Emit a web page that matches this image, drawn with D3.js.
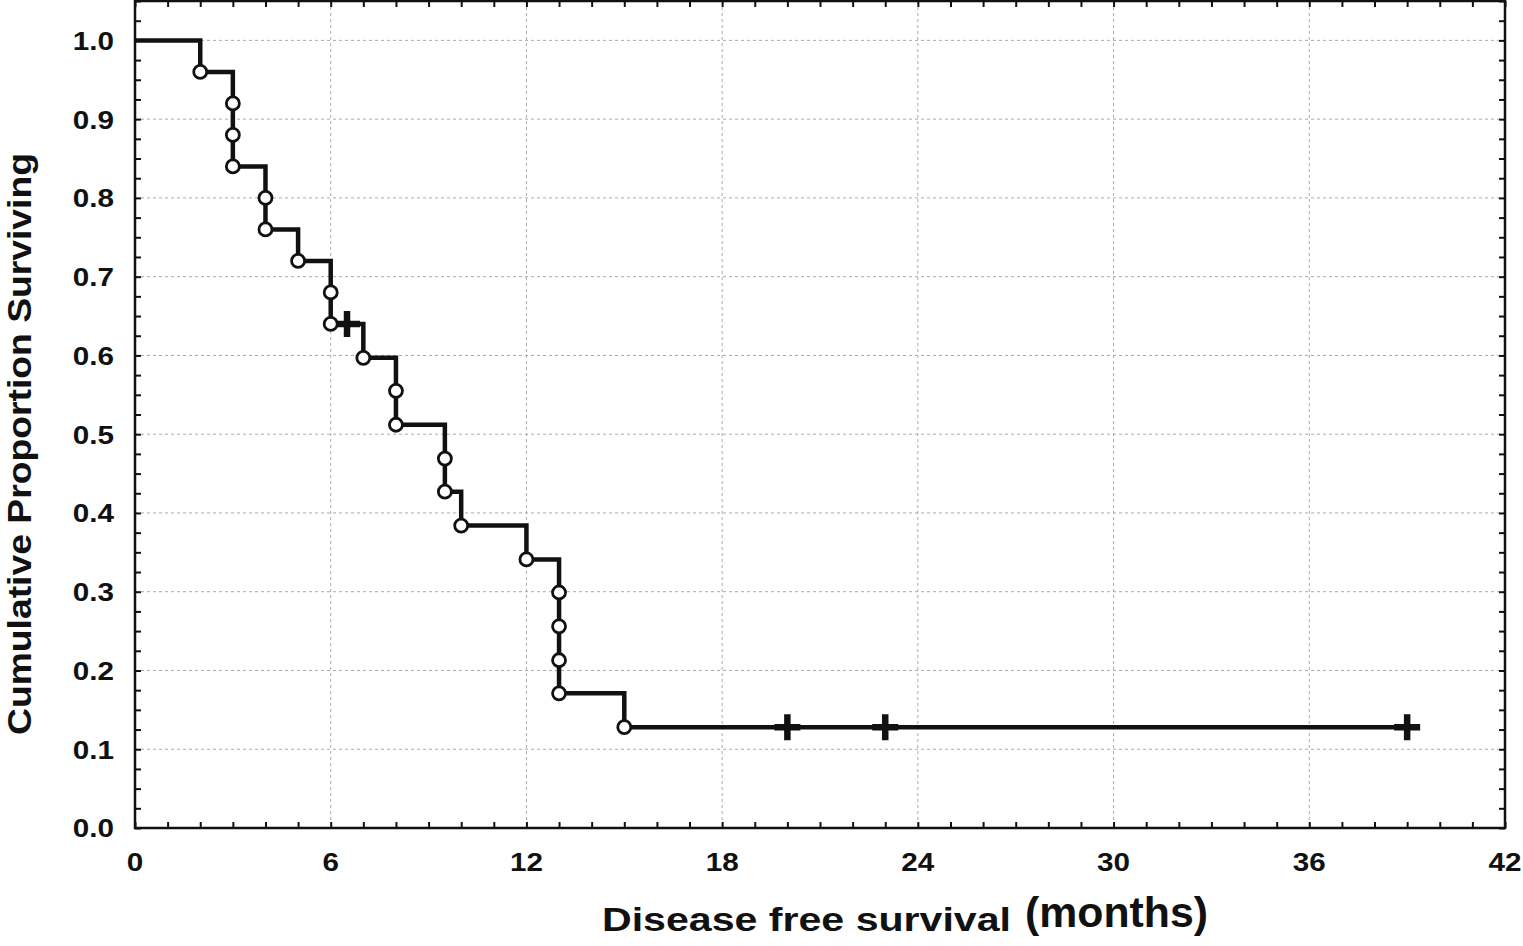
<!DOCTYPE html>
<html>
<head>
<meta charset="utf-8">
<script src="https://cdn.jsdelivr.net/npm/d3@7"></script>
<style>
  html, body { margin: 0; padding: 0; background: #fff; }
  svg { display: block; }
  text { font-family: "Liberation Sans", Arial, sans-serif; font-weight: bold; fill: #111; }
</style>
</head>
<body>
<div id="chart"></div>
<script>
/* Kaplan-Meier disease free survival — step curve, event circles, censor crosses. */

var eventTimes = [2, 3, 3, 3, 4, 4, 5, 6, 6, 7, 8, 8, 9.5, 9.5, 10, 12, 13, 13, 13, 13, 15];
var eventSurv = [0.96, 0.92, 0.88, 0.84, 0.80, 0.76, 0.72, 0.68, 0.64, 0.597, 0.555, 0.512,
                 0.469, 0.427, 0.384, 0.341, 0.299, 0.256, 0.213, 0.171, 0.128];
var censorTimes = [6.5, 20, 23, 39];
var censorSurv = [0.64, 0.128, 0.128, 0.128];
var xTicks = [0, 6, 12, 18, 24, 30, 36, 42];
var yTicks = [0, 0.1, 0.2, 0.3, 0.4, 0.5, 0.6, 0.7, 0.8, 0.9, 1.0];

var width = 1523, height = 946;
var margin = { top: 1, right: 18, bottom: 118, left: 135 };
var innerW = width - margin.left - margin.right;
var innerH = height - margin.top - margin.bottom;

var svg = d3.select("#chart").append("svg")
  .attr("width", width).attr("height", height)
  .attr("viewBox", "0 0 " + width + " " + height);

var g = svg.append("g").attr("transform", "translate(" + margin.left + "," + margin.top + ")");

var x = d3.scaleLinear().domain([0, 42]).range([0, innerW]);
var y = d3.scaleLinear().domain([0, 1.05]).range([innerH, 0]);

/* dotted grid */
g.append("g").selectAll("line").data(xTicks.filter(function (t) { return t > 0 && t < 42; }))
  .enter().append("line")
  .attr("x1", function (d) { return x(d); }).attr("x2", function (d) { return x(d); })
  .attr("y1", 0).attr("y2", innerH)
  .attr("stroke", "#aaa").attr("stroke-width", 1).attr("stroke-dasharray", "3 3");
g.append("g").selectAll("line").data(yTicks.filter(function (t) { return t > 0; }))
  .enter().append("line")
  .attr("y1", function (d) { return y(d); }).attr("y2", function (d) { return y(d); })
  .attr("x1", 0).attr("x2", innerW)
  .attr("stroke", "#aaa").attr("stroke-width", 1).attr("stroke-dasharray", "3 3");

/* frame with inward minor ticks on all four sides */
var minorX = d3.range(0, 43, 1);
var minorY = d3.range(0, 1.051, 0.025);
var tl = 6;

g.append("g").attr("transform", "translate(0," + innerH + ")")
  .call(d3.axisTop(x).tickValues(minorX).tickSize(tl).tickFormat(""));
g.append("g")
  .call(d3.axisBottom(x).tickValues(minorX).tickSize(tl).tickFormat(""));
g.append("g")
  .call(d3.axisRight(y).tickValues(minorY).tickSize(tl).tickFormat(""));
g.append("g").attr("transform", "translate(" + innerW + ",0)")
  .call(d3.axisLeft(y).tickValues(minorY).tickSize(tl).tickFormat(""));
g.selectAll(".domain").remove();
g.selectAll(".tick line").attr("stroke", "#111").attr("stroke-width", 2);

g.append("rect").attr("x", 0).attr("y", 0).attr("width", innerW).attr("height", innerH)
  .attr("fill", "none").attr("stroke", "#111").attr("stroke-width", 2.5);

/* tick labels */
var yl = g.append("g").selectAll("text").data(yTicks).enter().append("text")
  .attr("x", -21).attr("y", function (d) { return y(d); })
  .attr("dy", "0.36em").attr("text-anchor", "end")
  .style("font-size", "26px")
  .text(function (d) { return d.toFixed(1); });
var xl = g.append("g").selectAll("text").data(xTicks).enter().append("text")
  .attr("x", function (d) { return x(d); }).attr("y", innerH + 43)
  .attr("text-anchor", "middle")
  .style("font-size", "26px")
  .text(function (d) { return d; });
[yl, xl].forEach(function (sel) {
  sel.each(function () {
    var w = this.getComputedTextLength();
    d3.select(this).attr("textLength", w * 1.14).attr("lengthAdjust", "spacingAndGlyphs");
  });
});

/* axis titles */
svg.append("text")
  .attr("transform", "translate(31,444) rotate(-90)")
  .attr("text-anchor", "middle")
  .attr("textLength", 582).attr("lengthAdjust", "spacingAndGlyphs")
  .style("font-size", "33px")
  .text("Cumulative Proportion Surviving");
svg.append("text")
  .attr("x", 602).attr("y", 931)
  .attr("textLength", 409).attr("lengthAdjust", "spacingAndGlyphs")
  .style("font-size", "34px")
  .text("Disease free survival");
svg.append("text")
  .attr("x", 1025).attr("y", 927)
  .attr("textLength", 183).attr("lengthAdjust", "spacingAndGlyphs")
  .style("font-size", "42px")
  .text("(months)");

/* KM step curve */
var pts = [{ t: 0, s: 1 }];
eventTimes.forEach(function (t, i) { pts.push({ t: t, s: eventSurv[i] }); });
pts.push({ t: censorTimes[censorTimes.length - 1], s: censorSurv[censorSurv.length - 1] });

var line = d3.line()
  .x(function (d) { return x(d.t); })
  .y(function (d) { return y(d.s); })
  .curve(d3.curveStepAfter);

g.append("path").datum(pts)
  .attr("fill", "none").attr("stroke", "#111").attr("stroke-width", 4.5)
  .attr("d", line);

/* censored: crosses */
var cs = 13;
g.append("g").selectAll("path").data(censorTimes).enter().append("path")
  .attr("d", function (d, i) {
    var cx = x(d), cy = y(censorSurv[i]);
    return "M" + (cx - cs) + "," + cy + "H" + (cx + cs) + "M" + cx + "," + (cy - cs) + "V" + (cy + cs);
  })
  .attr("stroke", "#111").attr("stroke-width", 6.5).attr("fill", "none");

/* events: open circles */
g.append("g").selectAll("circle").data(eventTimes).enter().append("circle")
  .attr("cx", function (d) { return x(d); })
  .attr("cy", function (d, i) { return y(eventSurv[i]); })
  .attr("r", 6.5)
  .attr("fill", "#fff").attr("stroke", "#111").attr("stroke-width", 2.8);
</script>
</body>
</html>
